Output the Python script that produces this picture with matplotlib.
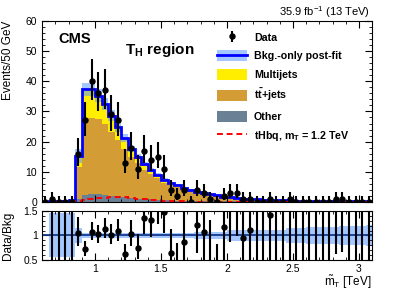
import matplotlib
matplotlib.use("Agg")
import matplotlib.pyplot as plt
from matplotlib.patches import Patch
from matplotlib.lines import Line2D
from matplotlib.ticker import MultipleLocator
import numpy as np

plt.rcParams["font.family"] = ["Liberation Sans", "DejaVu Sans"]
plt.rcParams["mathtext.fontset"] = "custom"
plt.rcParams["mathtext.rm"] = "Liberation Sans"
plt.rcParams["mathtext.it"] = "Liberation Sans:italic"
plt.rcParams["mathtext.bf"] = "Liberation Sans:bold"

# 50 GeV bins from 0.6 to 3.1 TeV
edges = np.round(np.linspace(0.6, 3.1, 51), 3)

data = [0, 1, 0, 0, 0,
        16, 27, 40, 36, 37,
        29, 27, 13, 18, 11,
        17, 14, 15, 11, 4,
        2, 4, 0, 4, 3,
        1, 0, 2, 3, 3,
        1, 1, 0, 0, 1,
        0, 0, 1, 0, 0,
        0, 0, 0, 0, 1,
        1, 0, 0, 0, 0]

other = [0.0, 0.3, 0.3, 0.3, 0.3,
         1.0, 2.3, 2.6, 2.6, 2.4,
         2.1, 1.8, 1.5, 1.3, 1.1,
         0.9, 0.8, 0.7, 0.6, 0.5,
         0.45, 0.4, 0.35, 0.3, 0.27,
         0.24, 0.2, 0.18, 0.16, 0.15,
         0.12, 0.1, 0.1, 0.09, 0.08,
         0.07, 0.07, 0.06, 0.05, 0.05,
         0.05, 0.04, 0.04, 0.04, 0.03,
         0.03, 0.03, 0.03, 0.02, 0.02]

ttbar = [0.0, 0.05, 0.05, 0.05, 0.1,
         10.5, 24.9, 25.2, 24.9, 23.4,
         21.2, 18.7, 16.0, 13.7, 11.7,
         9.8, 8.3, 7.1, 5.8, 5.0,
         4.35, 3.6, 3.15, 2.6, 2.18,
         1.95, 1.72, 1.3, 1.24, 1.08,
         0.8, 0.69, 0.6, 0.57, 0.54,
         0.46, 0.42, 0.38, 0.35, 0.32,
         0.29, 0.27, 0.24, 0.23, 0.22,
         0.2, 0.18, 0.17, 0.16, 0.15]

multijet = [0.0, 0.05, 0.05, 0.05, 0.1,
            3.8, 10.1, 9.5, 7.7, 6.8,
            5.3, 4.3, 3.8, 2.6, 2.2,
            1.8, 1.5, 1.2, 1.0, 0.8,
            0.7, 0.6, 0.5, 0.4, 0.35,
            0.31, 0.28, 0.22, 0.2, 0.17,
            0.13, 0.11, 0.1, 0.09, 0.08,
            0.07, 0.06, 0.06, 0.05, 0.05,
            0.04, 0.04, 0.04, 0.03, 0.03,
            0.03, 0.03, 0.02, 0.02, 0.02]

signal = [0, 0, 0, 0, 0,
          0.2, 0.6, 0.9, 1.2, 1.4,
          1.6, 1.7, 1.65, 1.4, 1.1,
          0.85, 0.65, 0.5, 0.4, 0.3,
          0.22, 0.16, 0.12, 0.09, 0.07,
          0.05, 0.04, 0.03, 0.02, 0.02,
          0.01, 0.01, 0, 0, 0,
          0, 0, 0, 0, 0,
          0, 0, 0, 0, 0,
          0, 0, 0, 0, 0]

bkg_rel_unc = [0.0, 0.45, 0.45, 0.45, 0.45,
               0.15, 0.06, 0.06, 0.06, 0.06,
               0.06, 0.06, 0.06, 0.06, 0.06,
               0.06, 0.06, 0.06, 0.06, 0.06,
               0.06, 0.06, 0.06, 0.07, 0.07,
               0.07, 0.07, 0.07, 0.12, 0.12,
               0.12, 0.12, 0.12, 0.12, 0.12,
               0.12, 0.12, 0.15, 0.15, 0.15,
               0.17, 0.17, 0.17, 0.17, 0.17,
               0.2, 0.2, 0.2, 0.2, 0.22]

c_other = "#6a8195"
c_tt = "#d39c34"
c_mj = "#ffee00"
c_band = (0.35, 0.6, 1.0, 0.55)

data = np.array(data, dtype=float)
other = np.array(other)
ttbar = np.array(ttbar)
multijet = np.array(multijet)
signal = np.array(signal)
unc = np.array(bkg_rel_unc)
total = other + ttbar + multijet
centers = 0.5 * (edges[:-1] + edges[1:])


# approximate Garwood (Poisson) intervals
def poisson_err(n):
    lo = np.zeros_like(n)
    pos = n > 0
    m = n[pos]
    lo[pos] = m - m * (1 - 1 / (9 * m) - 1 / (3 * np.sqrt(m))) ** 3
    k = n + 1
    up = k * (1 - 1 / (9 * k) + 1 / (3 * np.sqrt(k))) ** 3 - n
    return lo, up


err_lo, err_up = poisson_err(data)

fig = plt.figure(figsize=(4.13, 2.96), dpi=100)
ax = fig.add_axes([0.102, 0.318, 0.799, 0.611])
axr = fig.add_axes([0.102, 0.122, 0.799, 0.165])

ax.stairs(other, edges, baseline=0, fill=True, color=c_other, lw=0)
ax.stairs(other + ttbar, edges, baseline=other, fill=True, color=c_tt, lw=0)
ax.stairs(total, edges, baseline=other + ttbar, fill=True, color=c_mj, lw=0)
ax.stairs(total * (1 + unc), edges, baseline=total * (1 - unc), fill=True,
          facecolor=c_band, lw=0)
ax.stairs(total, edges, baseline=None, color="#0000ff", lw=2)
ax.stairs(signal, edges, baseline=None, color="red", ls=(0, (3, 2)), lw=1.4)
eb = ax.errorbar(centers, data, yerr=[err_lo, err_up], fmt="o", color="black",
                 ms=3.6, lw=1.5, capsize=0)

ax.set_xlim(0.6, 3.1)
ax.set_ylim(0, 60)
ax.yaxis.set_major_locator(MultipleLocator(10))
ax.yaxis.set_minor_locator(MultipleLocator(2))
ax.xaxis.set_major_locator(MultipleLocator(0.5))
ax.xaxis.set_minor_locator(MultipleLocator(0.1))
ax.tick_params(which="both", direction="in", top=True, right=True,
               labelsize=7.5, labelbottom=False)
ax.tick_params(which="major", length=5)
ax.tick_params(which="minor", length=2.5)
ax.set_ylabel("Events/50 GeV", fontsize=8.5, ha="right", y=1.0)
ax.yaxis.set_label_coords(-0.085, 1.0)

ax.text(0.048, 0.90, "CMS", transform=ax.transAxes, fontsize=10.5,
        fontweight="bold", va="center")
ax.text(0.25, 0.84, r"$\mathbf{T_H}$ region", transform=ax.transAxes,
        fontsize=11, fontweight="bold", va="center")
fig.text(0.897, 0.958, r"35.9 fb$^{-1}$ (13 TeV)", ha="right", va="center",
         fontsize=8)

handles = [eb,
           (Patch(facecolor=c_band, lw=0), Line2D([], [], color="#0000ff", lw=2)),
           Patch(facecolor=c_mj, lw=0),
           Patch(facecolor=c_tt, lw=0),
           Patch(facecolor=c_other, lw=0),
           Line2D([], [], color="red", ls=(0, (3, 2)), lw=1.4)]
labels = ["Data", "Bkg.-only post-fit", "Multijets", r"$\mathbf{t\bar{t}}$+jets",
          "Other", r"tHbq, m$_\mathbf{T}$ = 1.2 TeV"]
ax.legend(handles, labels, loc="upper left", bbox_to_anchor=(0.53, 0.94),
          frameon=False, borderpad=0, borderaxespad=0, handlelength=2.8,
          handleheight=1.2, handletextpad=0.65, labelspacing=0.68,
          prop={"weight": "bold", "size": 7.7})

# ratio panel
has_bkg = total > 0
ratio = data[has_bkg] / total[has_bkg]
r_lo = err_lo[has_bkg] / total[has_bkg]
r_up = err_up[has_bkg] / total[has_bkg]
axr.stairs(1 + unc, edges, baseline=1 - unc, fill=True, facecolor=c_band, lw=0)
axr.axhline(1, color="#123a8c", lw=1.3)
axr.vlines(centers[has_bkg], ratio - r_lo, ratio + r_up, color="black", lw=1.5)
axr.plot(centers[has_bkg], ratio, "o", color="black", ms=3.6)
axr.set_xlim(0.6, 3.1)
axr.set_ylim(0.5, 1.5)
axr.set_yticks([0.5, 1, 1.5], ["0.5", "1", "1.5"])
axr.set_xticks([1, 1.5, 2, 2.5, 3], ["1", "1.5", "2", "2.5", "3"])
axr.yaxis.set_minor_locator(MultipleLocator(0.1))
axr.xaxis.set_minor_locator(MultipleLocator(0.1))
axr.tick_params(which="both", direction="in", top=True, right=True,
                labelsize=7.5, pad=3)
axr.tick_params(which="major", length=5)
axr.tick_params(which="minor", length=2.5)
axr.set_ylabel("Data/Bkg", fontsize=8.5)
axr.yaxis.set_label_coords(-0.085, 0.5)
fig.text(0.9, 0.077, r"$\tilde{\mathrm{m}}_{\mathrm{T}}$ [TeV]", ha="right",
         va="top", fontsize=8.5)

fig.savefig("out.png", dpi=100)
